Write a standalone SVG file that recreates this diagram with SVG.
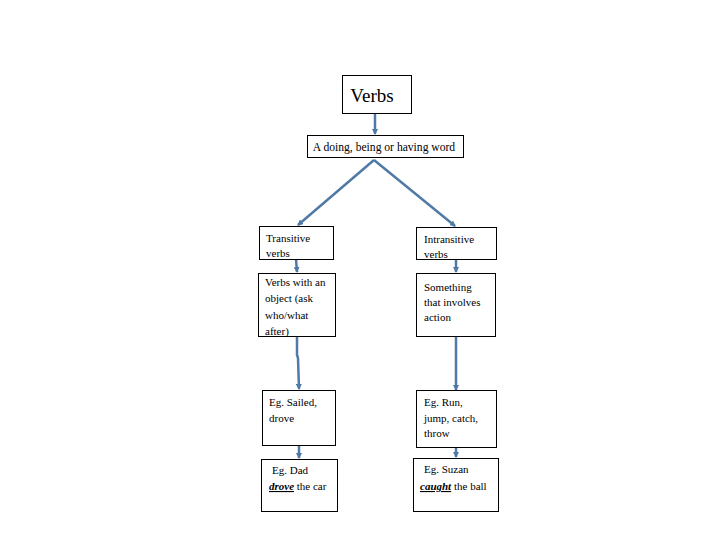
<svg xmlns="http://www.w3.org/2000/svg" width="720" height="540" viewBox="0 0 720 540">
<style>
.box{fill:#fff;stroke:#000;stroke-width:1}
text{font-family:"Liberation Serif","Times New Roman",serif;font-size:11px;fill:#000}
.big{font-size:19px}
.c{fill:none;stroke:#4f7aa6;stroke-width:2.5;marker-end:url(#ah)}
.em{font-style:italic;font-weight:bold;text-decoration:underline}
</style>
<defs>
<marker id="ah" viewBox="0 0 6 6" refX="5" refY="3" markerWidth="2.4" markerHeight="2.4" orient="auto" markerUnits="strokeWidth">
<path d="M0,0 L6,3 L0,6 z" fill="#4f7aa6"/>
</marker>
</defs>
<rect width="720" height="540" fill="#fff"/>
<g id="connectors">
<path class="c" d="M375,113 L375,134"/>
<path class="c" d="M374,160 L298,225"/>
<path class="c" d="M374,160 L455,226"/>
<path class="c" d="M296,259 L297,272"/>
<path class="c" d="M456,259 L456,272"/>
<path class="c" d="M297,336 L297,355 L298,358 L299,389"/>
<path class="c" d="M456,336 L456,390"/>
<path class="c" d="M299,445 L299,458"/>
<path class="c" d="M456,447 L456,457"/>
</g>
<g id="n-verbs">
<rect class="box" x="342.5" y="75.5" width="69" height="38"/>
<text class="big" x="372" y="102" text-anchor="middle">Verbs</text>
</g>
<g id="n-def">
<rect class="box" x="307.5" y="135.5" width="156" height="22"/>
<text x="384" y="151" text-anchor="middle" style="font-size:11.6px">A doing, being or having word</text>
</g>
<g id="n-trans">
<rect class="box" x="259.5" y="226.5" width="74" height="33"/>
<text x="266" y="242">Transitive</text>
<text x="266" y="257">verbs</text>
</g>
<g id="n-intrans">
<rect class="box" x="416.5" y="227.5" width="80" height="32"/>
<text x="424" y="243">Intransitive</text>
<text x="424" y="258">verbs</text>
</g>
<g id="n-transdef">
<rect class="box" x="258.5" y="273.5" width="77" height="63"/>
<text x="265" y="286">Verbs with an</text>
<text x="265" y="302">object (ask</text>
<text x="265" y="319">who/what</text>
<text x="265" y="335">after)</text>
</g>
<g id="n-intransdef">
<rect class="box" x="416.5" y="273.5" width="79" height="63"/>
<text x="424" y="291">Something</text>
<text x="424" y="306">that involves</text>
<text x="424" y="321">action</text>
</g>
<g id="n-transeg">
<rect class="box" x="262.5" y="390.5" width="73" height="55"/>
<text x="269" y="406">Eg. Sailed,</text>
<text x="269" y="422">drove</text>
</g>
<g id="n-intranseg">
<rect class="box" x="416.5" y="390.5" width="80" height="57"/>
<text x="424" y="406">Eg. Run,</text>
<text x="424" y="422">jump, catch,</text>
<text x="424" y="437">throw</text>
</g>
<g id="n-transsent">
<rect class="box" x="261.5" y="459.5" width="76" height="52"/>
<text x="272" y="474">Eg. Dad</text>
<text x="269" y="490"><tspan class="em">drove</tspan> the car</text>
</g>
<g id="n-intranssent">
<rect class="box" x="413.5" y="458.5" width="85" height="53"/>
<text x="424" y="473">Eg. Suzan</text>
<text x="420" y="490"><tspan class="em">caught</tspan> the ball</text>
</g>
</svg>
